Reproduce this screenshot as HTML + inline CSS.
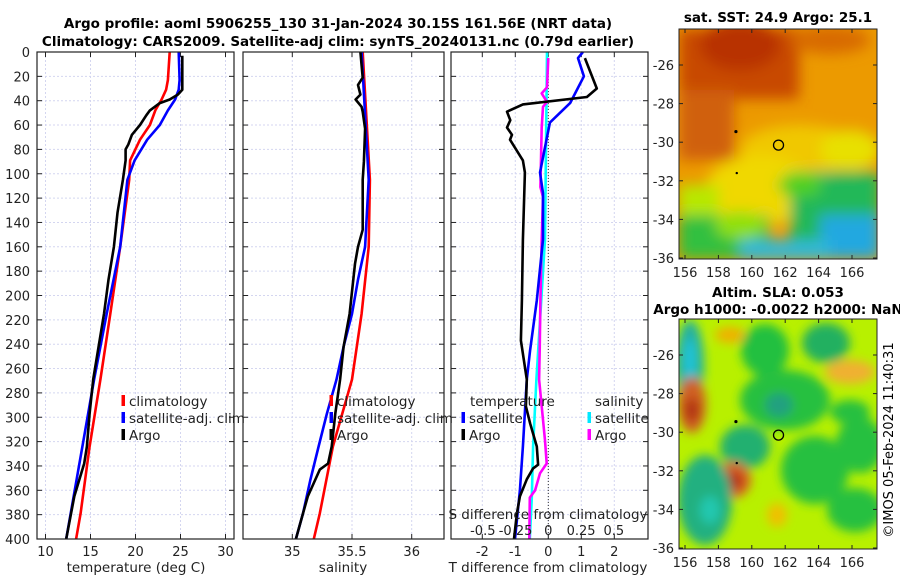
<!DOCTYPE html>
<html><head><meta charset="utf-8">
<style>
html,body{margin:0;padding:0;background:#fff;}
svg{display:block;font-family:"DejaVu Sans","Liberation Sans",sans-serif;}
</style></head>
<body>
<svg id="chart" width="900" height="580" viewBox="0 0 900 580" xmlns="http://www.w3.org/2000/svg">
<defs>
<filter id="blur1" x="-50%" y="-50%" width="200%" height="200%"><feGaussianBlur stdDeviation="7"/></filter>
<filter id="blur2" x="-50%" y="-50%" width="200%" height="200%"><feGaussianBlur stdDeviation="5"/></filter>
<clipPath id="clipTop"><rect x="679" y="29" width="198" height="230"/></clipPath>
<clipPath id="clipBot"><rect x="679" y="319" width="198" height="230"/></clipPath>
</defs>
<rect x="0" y="0" width="900" height="580" fill="#fff"/>
<text x="338" y="28" font-size="13.5" font-weight="bold" text-anchor="middle">Argo profile: aoml 5906255_130 31-Jan-2024 30.15S 161.56E (NRT data)</text>
<text x="338" y="46" font-size="13.5" font-weight="bold" text-anchor="middle">Climatology: CARS2009. Satellite-adj clim: synTS_20240131.nc (0.79d earlier)</text>

<!-- SST map -->
<g clip-path="url(#clipTop)">
<rect x="679" y="29" width="198" height="230" fill="#ec9a00"/>
<g filter="url(#blur1)">
<rect x="679" y="29" width="120" height="70" fill="#c84800"/>
<rect x="679" y="90" width="55" height="70" fill="#d06010"/>
<ellipse cx="740" cy="45" rx="40" ry="25" fill="#b83000"/>
<ellipse cx="830" cy="40" rx="40" ry="14" fill="#d86a00"/>
<ellipse cx="800" cy="150" rx="60" ry="25" fill="#f0c800"/>
<ellipse cx="850" cy="150" rx="30" ry="20" fill="#e8e000"/>
<ellipse cx="760" cy="190" rx="55" ry="35" fill="#f0d800"/>
<rect x="679" y="185" width="40" height="40" fill="#b8e800"/>
<rect x="679" y="215" width="90" height="44" fill="#30c040"/>
<rect x="790" y="172" width="90" height="87" fill="#20b858"/>
<ellipse cx="800" cy="185" rx="22" ry="12" fill="#50d020"/>
<rect x="820" y="215" width="60" height="44" fill="#20a8e0"/>
<rect x="740" y="240" width="90" height="20" fill="#30b8d8"/>
<ellipse cx="740" cy="225" rx="25" ry="14" fill="#90e010"/>
</g>
</g>
<rect x="679" y="29" width="198" height="230" fill="none" stroke="#222" stroke-width="1"/>
<text x="778" y="22" font-size="13.5" font-weight="bold" text-anchor="middle">sat. SST: 24.9 Argo: 25.1</text>

<!-- SLA map -->
<g clip-path="url(#clipBot)">
<rect x="679" y="319" width="198" height="230" fill="#b8f000"/>
<g filter="url(#blur2)">
<ellipse cx="690" cy="365" rx="14" ry="45" fill="#20b0a0"/>
<ellipse cx="690" cy="360" rx="5" ry="22" fill="#20c8e0"/>
<ellipse cx="730" cy="335" rx="15" ry="8" fill="#f0b000"/>
<ellipse cx="765" cy="350" rx="24" ry="26" fill="#20c040"/>
<ellipse cx="826" cy="343" rx="24" ry="20" fill="#20b060"/>
<ellipse cx="850" cy="372" rx="25" ry="12" fill="#f0b030"/>
<ellipse cx="785" cy="400" rx="45" ry="30" fill="#28c040"/>
<ellipse cx="779" cy="405" rx="14" ry="12" fill="#20a080"/>
<ellipse cx="692" cy="405" rx="14" ry="28" fill="#d06020"/>
<ellipse cx="692" cy="410" rx="7" ry="12" fill="#b03010"/>
<ellipse cx="745" cy="447" rx="25" ry="22" fill="#20b070"/>
<ellipse cx="733" cy="480" rx="18" ry="18" fill="#d86020"/>
<ellipse cx="733" cy="481" rx="9" ry="8" fill="#b02010"/>
<ellipse cx="705" cy="500" rx="27" ry="45" fill="#20b080"/>
<ellipse cx="710" cy="510" rx="10" ry="14" fill="#20c8b0"/>
<ellipse cx="815" cy="470" rx="34" ry="34" fill="#28c040"/>
<ellipse cx="860" cy="445" rx="24" ry="28" fill="#28c040"/>
<ellipse cx="855" cy="510" rx="28" ry="22" fill="#28c040"/>
<ellipse cx="777" cy="515" rx="10" ry="12" fill="#f0c000"/>
<ellipse cx="850" cy="412" rx="20" ry="12" fill="#28c040"/>
</g>
</g>
<rect x="679" y="319" width="198" height="230" fill="none" stroke="#222" stroke-width="1"/>
<text x="778" y="297" font-size="13.5" font-weight="bold" text-anchor="middle">Altim. SLA: 0.053</text>
<text x="778" y="314" font-size="13.5" font-weight="bold" text-anchor="middle">Argo h1000: -0.0022 h2000: NaN</text>
<text x="0" y="0" font-size="13" text-anchor="middle" transform="translate(893,440) rotate(-90)">©IMOS 05-Feb-2024 11:40:31</text>

<g id="plots"></g>
</svg>
<script>
// ---- data ----
const tempDepthClim = [0, 23, 31, 39, 48, 60, 72, 89, 105, 160, 215, 269, 324, 379, 400];
const tempClim = [23.8, 23.6, 23.4, 22.9, 22.2, 21.6, 20.5, 19.4, 19.3, 18.3, 17.2, 16.1, 14.9, 13.9, 13.4];
const tempDepthSat = [0, 23, 31, 39, 48, 60, 72, 89, 105, 160, 215, 269, 324, 379, 400];
const tempSat = [24.8, 24.9, 24.8, 24.4, 23.6, 22.7, 21.3, 19.9, 19.1, 18.3, 16.8, 15.4, 14.1, 12.8, 12.3];
const tempDepthArgo = [3, 31, 35, 39, 42, 48, 52, 60, 68, 76, 80, 89, 105, 132, 160, 187, 215, 242, 269, 297, 324, 338, 365, 400];
const tempArgo = [25.2, 25.2, 24.7, 23.8, 22.7, 21.6, 21.2, 20.5, 19.6, 19.2, 18.9, 18.9, 18.6, 18.0, 17.6, 17.0, 16.5, 15.9, 15.3, 14.9, 14.6, 14.3, 13.2, 12.3];

const salDepthClim = [0, 105, 160, 215, 269, 324, 379, 400];
const salClim = [35.59, 35.65, 35.64, 35.58, 35.50, 35.34, 35.23, 35.18];
const salDepthSat = [0, 105, 160, 187, 215, 242, 269, 297, 324, 352, 379, 400];
const salSat = [35.58, 35.64, 35.61, 35.55, 35.50, 35.43, 35.37, 35.29, 35.22, 35.15, 35.09, 35.03];
const salDepthArgo = [0, 21, 27, 35, 39, 45, 49, 63, 90, 105, 146, 160, 174, 215, 242, 269, 297, 324, 338, 343, 365, 379, 400];
const salArgo = [35.57, 35.59, 35.55, 35.57, 35.53, 35.58, 35.59, 35.61, 35.60, 35.59, 35.59, 35.55, 35.525, 35.48, 35.43, 35.40, 35.36, 35.33, 35.30, 35.23, 35.13, 35.09, 35.03];

const tdDepthSat = [0, 5, 20, 42, 58, 99, 116, 154, 204, 245, 269, 324, 360, 400];
const tdSat = [1.05, 0.9, 1.08, 0.66, 0.05, -0.25, -0.16, -0.16, -0.35, -0.55, -0.65, -0.77, -0.86, -1.01];
const tdDepthArgo = [5, 30, 37, 43, 49, 56, 62, 68, 72, 89, 99, 154, 204, 237, 269, 291, 305, 324, 339, 342, 351, 365, 379, 400];
const tdArgo = [1.11, 1.47, 1.17, -0.77, -1.25, -1.15, -1.25, -1.1, -1.16, -0.77, -0.71, -0.77, -0.8, -0.83, -0.65, -0.68, -0.55, -0.35, -0.31, -0.46, -0.65, -0.86, -0.95, -1.04];
const sdDepthSat = [0, 154, 269, 324, 366, 400];
const sdSat = [-0.01, -0.025, -0.09, -0.115, -0.125, -0.14];
const sdDepthArgo = [5, 29, 34, 41, 45, 62, 111, 119, 154, 204, 245, 269, 319, 338, 346, 360, 366, 400];
const sdArgo = [0.0, -0.01, -0.05, -0.01, -0.04, -0.05, -0.06, -0.04, -0.05, -0.06, -0.065, -0.07, -0.025, -0.012, -0.063, -0.1, -0.14, -0.144];

const depthTicks = [0,20,40,60,80,100,120,140,160,180,200,220,240,260,280,300,320,340,360,380,400];
const tempTicks = [10,15,20,25,30];
const salTicks = [35,35.5,36];
const tdTicks = [-2,-1,0,1,2];
const sdTickLabels = ["-0.5","-0.25","0","0.25","0.5"];
const sdTicks = [-0.5,-0.25,0,0.25,0.5];

// ---- axes ----
const Y0 = 52, YS = 1.2175;
const yD = d => Y0 + d * YS;
const xT = v => 45.5 + (v - 10) * 9;
const xS = v => 292.3 + (v - 35) * 119.4;
const xD = v => 548.3 + v * 33;
const xSD = v => 548.3 + v * 132;
const xSDlab = v => 548.3 + v * 131;
const NS = "http://www.w3.org/2000/svg";
const root = document.getElementById('plots');
function mk(tag, attrs, parent) {
  const e = document.createElementNS(NS, tag);
  for (const k in attrs) e.setAttribute(k, attrs[k]);
  (parent || root).appendChild(e);
  return e;
}
function txt(s, x, y, size, anchor, name) {
  const t = mk('text', {x: x, y: y, 'font-size': size, 'text-anchor': anchor, fill: '#222'});
  t.textContent = s;
  
  
  return t;
}
const panels = [
  {x0: 37, x1: 234, name: 'temperature-panel', vt: tempTicks, fx: xT},
  {x0: 243, x1: 444, name: 'salinity-panel', vt: salTicks, fx: xS},
  {x0: 451, x1: 648, name: 'difference-panel', vt: tdTicks, fx: xD}
];
panels.forEach(p => {
  const g = mk('g', {});
  
  
  depthTicks.forEach(d => {
    const l = mk('line', {x1: p.x0, x2: p.x1, y1: yD(d), y2: yD(d), stroke: '#d4d6f0', 'stroke-width': 1, 'stroke-dasharray': '2,2'}, g);
    
    
    mk('line', {x1: p.x0, x2: p.x0 + 5, y1: yD(d), y2: yD(d), stroke: '#222'}, g);
    mk('line', {x1: p.x1 - 5, x2: p.x1, y1: yD(d), y2: yD(d), stroke: '#222'}, g);
  });
  p.vt.forEach(v => {
    const x = p.fx(v);
    const l = mk('line', {x1: x, x2: x, y1: Y0, y2: yD(400), stroke: '#d4d6f0', 'stroke-width': 1, 'stroke-dasharray': '2,2'}, g);
    
    
    mk('line', {x1: x, x2: x, y1: yD(400), y2: yD(400) - 5, stroke: '#222'}, g);
    mk('line', {x1: x, x2: x, y1: Y0, y2: Y0 + 5, stroke: '#222'}, g);
    const t = txt(String(v), x, 556, 13, 'middle', 'x-tick-label');
    g.appendChild(t);
  });
});
depthTicks.forEach(d => txt(String(d), 30, yD(d) + 5, 13, 'end', 'y-tick-label'));
const zl = mk('line', {x1: xD(0), x2: xD(0), y1: Y0, y2: yD(400), stroke: '#333', 'stroke-width': 1, 'stroke-dasharray': '1,2'});



function series(xs, ds, fx, color, name) {
  const pts = xs.map((v, i) => fx(v).toFixed(1) + ',' + yD(ds[i]).toFixed(1)).join(' ');
  const pl = mk('polyline', {points: pts, fill: 'none', stroke: color, 'stroke-width': 2.6, 'stroke-linejoin': 'round'});
  
  
}
series(tempClim, tempDepthClim, xT, '#ff0000', 'temp-climatology-line');
series(tempSat, tempDepthSat, xT, '#0000ff', 'temp-satellite-line');
series(tempArgo, tempDepthArgo, xT, '#000000', 'temp-argo-line');
series(salClim, salDepthClim, xS, '#ff0000', 'sal-climatology-line');
series(salSat, salDepthSat, xS, '#0000ff', 'sal-satellite-line');
series(salArgo, salDepthArgo, xS, '#000000', 'sal-argo-line');
series(sdSat, sdDepthSat, xSD, '#00ffff', 'sdiff-satellite-line');
series(sdArgo, sdDepthArgo, xSD, '#ff00ff', 'sdiff-argo-line');
series(tdSat, tdDepthSat, xD, '#0000ff', 'tdiff-satellite-line');
series(tdArgo, tdDepthArgo, xD, '#000000', 'tdiff-argo-line');

panels.forEach(p => {
  const r = mk('rect', {x: p.x0, y: Y0, width: p.x1 - p.x0, height: yD(400) - Y0, fill: 'none', stroke: '#222', 'stroke-width': 1.2});
  
  
});

function legend(x, y, color, label, name) {
  const m = mk('rect', {x: x - 1.5, y: y - 11, width: 3.5, height: 11, fill: color});
  
  
  txt(label, x + 6, y, 13.5, 'start', name);
}
legend(123, 406, '#ff0000', 'climatology', 'legend-climatology');
legend(123, 423, '#0000ff', 'satellite-adj. clim', 'legend-satellite');
legend(123, 440, '#000000', 'Argo', 'legend-argo');
legend(331, 406, '#ff0000', 'climatology', 'legend-sal-climatology');
legend(331, 423, '#0000ff', 'satellite-adj. clim', 'legend-sal-satellite');
legend(331, 440, '#000000', 'Argo', 'legend-sal-argo');
txt('temperature', 470, 406, 13.5, 'start', 'legend-temperature-heading');
legend(463, 423, '#0000ff', 'satellite', 'legend-t-satellite');
legend(463, 440, '#000000', 'Argo', 'legend-t-argo');
txt('salinity', 595, 406, 13.5, 'start', 'legend-salinity-heading');
legend(589, 423, '#00e8ff', 'satellite', 'legend-s-satellite');
legend(589, 440, '#ff00ff', 'Argo', 'legend-s-argo');

txt('S difference from climatology', 548, 519, 13.5, 'middle', 's-axis-title');
sdTicks.forEach((v, i) => txt(sdTickLabels[i], xSDlab(v), 535, 13, 'middle', 's-tick-label'));

txt('temperature (deg C)', 136, 572, 13.5, 'middle', 'temp-axis-title');
txt('salinity', 343, 572, 13.5, 'middle', 'sal-axis-title');
txt('T difference from climatology', 548, 572, 13.5, 'middle', 'tdiff-axis-title');

const lonTicks = [156,158,160,162,164,166];
const latTicks = [-26,-28,-30,-32,-34,-36];
const mxL = v => 685 + (v - 156) * 16.7;
const myL = (v, off) => 65 + off + (-26 - v) * 19.3;
[0, 290].forEach(off => {
  lonTicks.forEach(v => {
    mk('line', {x1: mxL(v), x2: mxL(v), y1: 259 + off, y2: 255 + off, stroke: '#222'});
    mk('line', {x1: mxL(v), x2: mxL(v), y1: 29 + off, y2: 33 + off, stroke: '#222'});
    txt(String(v), mxL(v), 277 + off, 13, 'middle', 'lon-tick-label');
  });
  latTicks.forEach(v => {
    mk('line', {x1: 679, x2: 683, y1: myL(v, off), y2: myL(v, off), stroke: '#222'});
    mk('line', {x1: 873, x2: 877, y1: myL(v, off), y2: myL(v, off), stroke: '#222'});
    txt(String(v), 674, myL(v, off) + 5, 13, 'end', 'lat-tick-label');
  });
  const c = mk('circle', {cx: mxL(161.6), cy: myL(-30.15, off), r: 5, fill: 'none', stroke: '#000', 'stroke-width': 1.3});
  
  
  mk('circle', {cx: mxL(159.05), cy: myL(-29.45, off), r: 1.6, fill: '#000'});
  mk('circle', {cx: mxL(159.1), cy: myL(-31.6, off), r: 1.2, fill: '#000'});
});
</script>
</body></html>
